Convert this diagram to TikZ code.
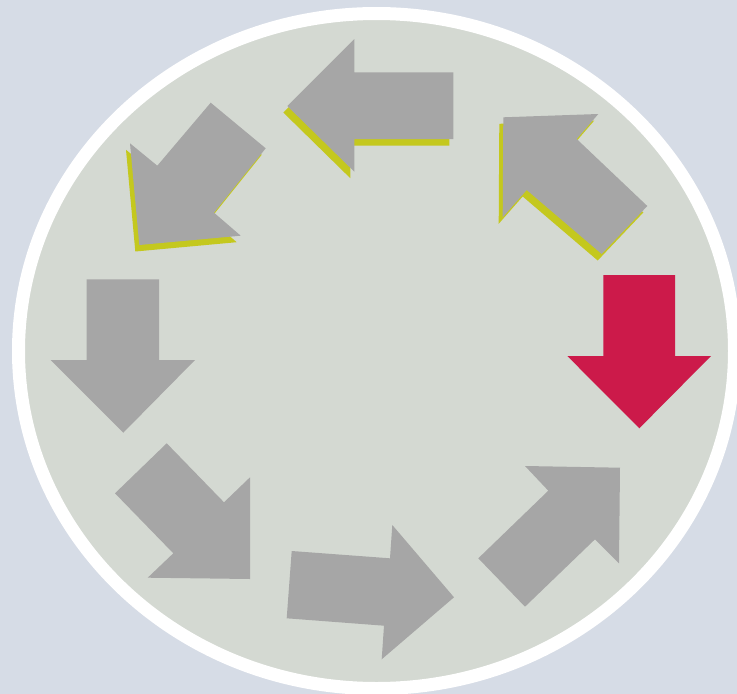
\documentclass[tikz,border=0pt]{standalone}
\definecolor{bgcol}{RGB}{214,220,230}
\definecolor{discfill}{RGB}{212,217,210}
\definecolor{arrowgray}{RGB}{166,166,166}
\definecolor{shadowcol}{RGB}{196,200,30}
\definecolor{redarrow}{RGB}{204,26,74}
\tikzset{
  grayarrow/.style={fill=arrowgray},
  hotarrow/.style={fill=redarrow},
  shadowed/.style={preaction={fill=shadowcol, transform canvas={xshift=-4pt,yshift=-6.5pt}}}
}
\begin{document}
\begin{tikzpicture}[x=1pt,y=-1pt]
\useasboundingbox (0,0) rectangle (737,694);
\fill[bgcol] (0,0) rectangle (737,694);
\draw[white, line width=13pt, fill=discfill] (376.5,351) ellipse [x radius=358pt, y radius=337.5pt];

% top arrow (left)
\path[grayarrow, shadowed] (287.3,106) -- (354.3,39) -- (354.3,72.3) -- (453.3,72.3) -- (453.3,139) -- (354.3,139) -- (354.3,171.7) -- cycle;

% top-left arrow (down-left)
\path[grayarrow, shadowed] (139.3,245) -- (130,143.3) -- (157.3,165.7) -- (210.7,102.7) -- (265.7,148.3) -- (214,212.7) -- (240.7,235.7) -- cycle;

% top-right arrow (up-left)
\path[grayarrow, shadowed] (503.3,117.3) -- (598.3,114) -- (576.7,139) -- (647.3,206) -- (601.7,254) -- (526.7,190) -- (502.7,217.3) -- cycle;

% red arrow (down)
\path[hotarrow] (603.3,275) -- (675,275) -- (675,356) -- (711,356) -- (639.3,428.3) -- (567.3,356) -- (603.3,356) -- cycle;

% left arrow (down)
\path[grayarrow] (86.7,279.3) -- (159,279.3) -- (159,360) -- (195,360) -- (123.3,432.7) -- (50.7,360) -- (86.7,360) -- cycle;

% bottom-left arrow (down-right)
\path[grayarrow] (166.7,443.3) -- (224,502.3) -- (250,477.3) -- (250,579) -- (147.7,577.7) -- (173.3,553.3) -- (115,493.3) -- cycle;

% bottom arrow (right)
\path[grayarrow] (291.7,551) -- (390,558.3) -- (392.3,525) -- (454,597.3) -- (381.7,659.3) -- (384,625.7) -- (286.7,618.3) -- cycle;

% bottom-right arrow (up-right)
\path[grayarrow] (478.3,558.3) -- (548.3,490.7) -- (525,466) -- (620,467.7) -- (619,563.3) -- (595,539.3) -- (525,606.7) -- cycle;
\end{tikzpicture}
\end{document}
